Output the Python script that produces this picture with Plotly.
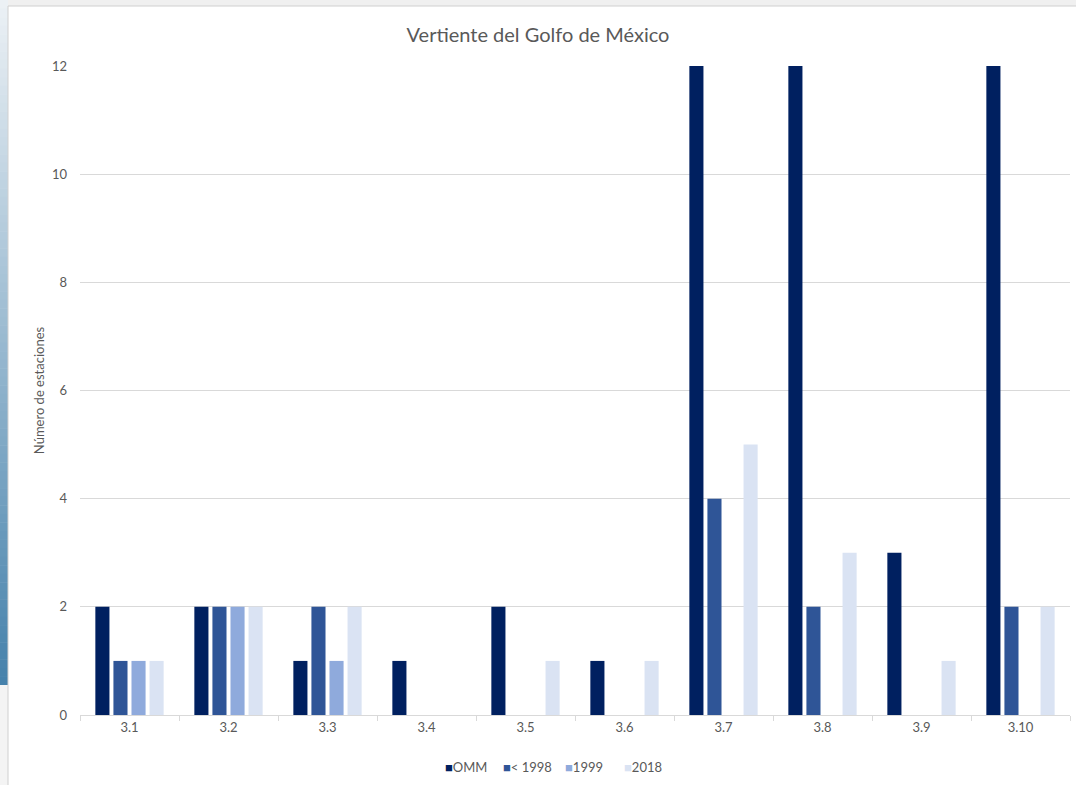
import plotly.graph_objects as go

categories = ["3.1", "3.2", "3.3", "3.4", "3.5", "3.6", "3.7", "3.8", "3.9", "3.10"]
omm = [2, 2, 1, 1, 2, 1, 12, 12, 3, 12]
pre1998 = [1, 2, 2, 0, 0, 0, 4, 2, 0, 2]
y1999 = [1, 2, 1, 0, 0, 0, 0, 0, 0, 0]
y2018 = [1, 2, 2, 0, 1, 1, 5, 3, 1, 2]

series_names = ["OMM", "< 1998", "1999", "2018"]
colors = ["#002060", "#2F5597", "#8FAADC", "#DAE3F3"]

FONT = "Lato"
GRAY = "#595959"

fig = go.Figure()
for name, vals, col in zip(series_names, [omm, pre1998, y1999, y2018], colors):
    fig.add_trace(go.Bar(x=categories, y=vals, name=name, marker_color=col,
                         marker_line_width=0, showlegend=False))

W, H = 1076, 785
ml, mr, mt, mb = 80, 6, 66, 70
pw = W - ml - mr
ph = H - mt - mb

def px_x(p):
    return (p - ml) / pw

def px_y(p):
    return 1 - (p - mt) / ph

shapes = []
top_c = (236, 241, 245)
bot_c = (70, 130, 172)
n = 80
y0p, y1p = 0, 685
for i in range(n):
    t = i / (n - 1)
    c = tuple(int(top_c[k] + (bot_c[k] - top_c[k]) * t) for k in range(3))
    ya = y0p + (y1p - y0p) * i / n
    yb = y0p + (y1p - y0p) * (i + 1) / n + 0.5
    shapes.append(dict(type="rect", xref="paper", yref="paper",
                       x0=px_x(0), x1=px_x(8), y0=px_y(yb), y1=px_y(ya),
                       fillcolor="rgb(%d,%d,%d)" % c, line_width=0, layer="below"))
shapes.append(dict(type="rect", xref="paper", yref="paper",
                   x0=px_x(0), x1=px_x(8), y0=px_y(785), y1=px_y(685),
                   fillcolor="#f4f4f4", line_width=0, layer="below"))
shapes.append(dict(type="rect", xref="paper", yref="paper",
                   x0=px_x(8), x1=px_x(1076), y0=px_y(6), y1=px_y(0),
                   fillcolor="#f0f0f0", line_width=0, layer="below"))
shapes.append(dict(type="line", xref="paper", yref="paper",
                   x0=px_x(8), x1=px_x(1076), y0=px_y(6), y1=px_y(6),
                   line=dict(color="#d0d0d0", width=1)))
shapes.append(dict(type="line", xref="paper", yref="paper",
                   x0=px_x(8), x1=px_x(8), y0=px_y(6), y1=px_y(785),
                   line=dict(color="#d0d0d0", width=1)))

# legend entries (square glyph + label), placed like the original legend
legend_x = [443, 501, 563, 622]
annotations = []
for name, col, lx in zip(series_names, colors, legend_x):
    label = name.replace("<", "&lt;")
    annotations.append(dict(text="<span style='color:%s'>■</span>%s" % (col, label),
                            xref="paper", yref="paper", x=px_x(lx), y=px_y(767),
                            xanchor="left", yanchor="middle", showarrow=False,
                            font=dict(size=13, color=GRAY, family=FONT)))

fig.update_layout(
    width=W, height=H,
    margin=dict(l=ml, r=mr, t=mt, b=mb, autoexpand=False),
    paper_bgcolor="white", plot_bgcolor="white",
    barmode="group", bargap=0.27, bargroupgap=0.22,
    font=dict(family=FONT, color=GRAY, size=13),
    title=dict(text="Vertiente del Golfo de México", x=0.5, xanchor="center",
               y=1 - 35 / H, yanchor="middle",
               font=dict(family=FONT, size=20, color=GRAY)),
    xaxis=dict(showgrid=False, showline=True, linecolor="#d9d9d9", linewidth=1,
               ticks="outside", tickson="boundaries", ticklen=5, tickcolor="#d9d9d9",
               tickfont=dict(size=13, color=GRAY)),
    yaxis=dict(range=[0, 12], dtick=2, showgrid=True, gridcolor="#d9d9d9",
               gridwidth=1, zeroline=False, showline=False,
               ticks="", ticklabelstandoff=12,
               tickfont=dict(size=13, color=GRAY),
               title=dict(text="Número de estaciones", standoff=4,
                          font=dict(size=13, color=GRAY))),
    showlegend=False,
    annotations=annotations,
    shapes=shapes,
)

fig.write_html("out.html", config={"displayModeBar": False},
               post_script="document.body.style.margin='0px';")
